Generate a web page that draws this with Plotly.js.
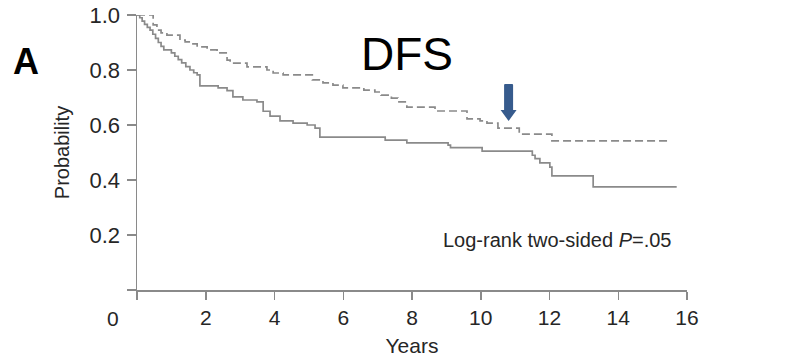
<!DOCTYPE html>
<html>
<head>
<meta charset="utf-8">
<script src="https://cdn.plot.ly/plotly-3.0.1.min.js"></script>
<style>html,body{margin:0;padding:0;background:#fff;}#chart{width:790px;height:361px;}</style>
</head>
<body>
<div id="chart"></div>
<script>
// Kaplan-Meier step data (years, survival probability)
const solidYears = [0,0.08,0.15,0.22,0.3,0.38,0.46,0.54,0.62,0.7,0.78,1.0,1.1,1.2,1.3,1.42,1.54,1.65,1.75,1.83,2.36,2.62,2.79,3.08,3.49,3.67,3.87,4.16,4.54,4.95,5.18,5.32,7.22,7.85,9.05,9.12,10.04,11.5,11.58,11.72,12.01,12.07,13.27,15.7];
const solidProb  = [1.0,0.99,0.978,0.966,0.955,0.945,0.93,0.915,0.9,0.886,0.873,0.862,0.85,0.838,0.826,0.812,0.8,0.79,0.782,0.742,0.735,0.725,0.702,0.691,0.684,0.65,0.632,0.615,0.607,0.6,0.589,0.556,0.545,0.535,0.527,0.518,0.505,0.49,0.478,0.462,0.447,0.415,0.375,0.375];
const dashedYears = [0,0.47,0.58,0.7,0.87,1.25,1.4,1.6,1.75,2.04,2.33,2.62,2.71,3.2,3.78,3.96,4.25,5.1,5.41,5.7,5.99,6.6,6.92,7.1,7.4,7.59,7.85,8.67,9.6,9.98,10.18,10.5,11.12,12.07,15.42];
const dashedProb  = [1.0,0.964,0.945,0.935,0.927,0.909,0.902,0.895,0.884,0.873,0.862,0.836,0.825,0.811,0.8,0.789,0.782,0.764,0.753,0.745,0.735,0.727,0.72,0.709,0.698,0.684,0.665,0.651,0.622,0.615,0.607,0.589,0.567,0.542,0.542];
const xTickVals = [0,2,4,6,8,10,12,14,16];
const xTickText = ['','2','4','6','8','10','12','14','16'];
const yTickVals = [0,0.2,0.4,0.6,0.8,1.0];
const yTickText = ['','0.2','0.4','0.6','0.8','1.0'];

const FONT = 'Liberation Sans, Arial, Helvetica, sans-serif';
const lineCol = '#8a8a8a';
const axCol = '#8a8a8a';
const txtCol = '#262626';

const traces = [
  {x: solidYears, y: solidProb, type:'scatter', mode:'lines', line:{shape:'hv', color:lineCol, width:1.7}, hoverinfo:'skip'},
  {x: dashedYears, y: dashedProb, type:'scatter', mode:'lines', line:{shape:'hv', color:lineCol, width:1.7, dash:'8px,4px'}, hoverinfo:'skip'}
];

const layout = {
  width:790, height:361,
  margin:{l:137, r:103, t:15, b:71},
  paper_bgcolor:'#fff', plot_bgcolor:'#fff',
  showlegend:false,
  font:{family:FONT, color:txtCol, size:20},
  xaxis:{range:[0,16], showgrid:false, zeroline:false, showline:true, linecolor:axCol, linewidth:1.5,
         ticks:'outside', ticklen:8, tickwidth:1.5, tickcolor:axCol,
         tickvals:xTickVals, ticktext:xTickText, tickfont:{size:21, color:txtCol},
         title:{text:'Years', font:{size:21, color:txtCol}, standoff:10}},
  yaxis:{range:[0,1], showgrid:false, zeroline:false, showline:true, linecolor:axCol, linewidth:1.5,
         ticks:'outside', ticklen:9, tickwidth:1.5, tickcolor:axCol,
         tickvals:yTickVals, ticktext:yTickText, tickfont:{size:22, color:txtCol}, ticklabelstandoff:2,
         title:{text:'Probability', font:{size:20, color:txtCol}, standoff:14}},
  annotations:[
    {text:'0', xref:'paper', yref:'paper', x:-0.0436, y:-0.102, xanchor:'center', yanchor:'middle', showarrow:false, font:{size:21, color:txtCol}},
    {text:'A', xref:'paper', yref:'paper', x:-0.202, y:0.83, xanchor:'center', yanchor:'middle', showarrow:false, font:{size:36, color:'#000', family:FONT, weight:'bold'}},
    {text:'DFS', xref:'x', yref:'paper', x:7.85, y:0.857, xanchor:'center', yanchor:'middle', showarrow:false, font:{size:46, color:'#000'}},
    {text:'Log-rank two-sided <i>P</i>=.05', xref:'x', yref:'y', x:15.6, y:0.183, xanchor:'right', yanchor:'middle', showarrow:false, font:{size:20, color:txtCol}}
  ],
  shapes:[
    {type:'path', xref:'x', yref:'y', xsizemode:'pixel', ysizemode:'pixel', xanchor:10.81, yanchor:0.615,
     path:'M0,0 L8,11 L4.5,11 L4.5,36 Q4.5,37 3.5,37 L-3.5,37 Q-4.5,37 -4.5,36 L-4.5,11 L-8,11 Z',
     fillcolor:'#375b8d', line:{width:0}}
  ]
};

Plotly.newPlot('chart', traces, layout, {staticPlot:true, displayModeBar:false});
</script>
</body>
</html>
